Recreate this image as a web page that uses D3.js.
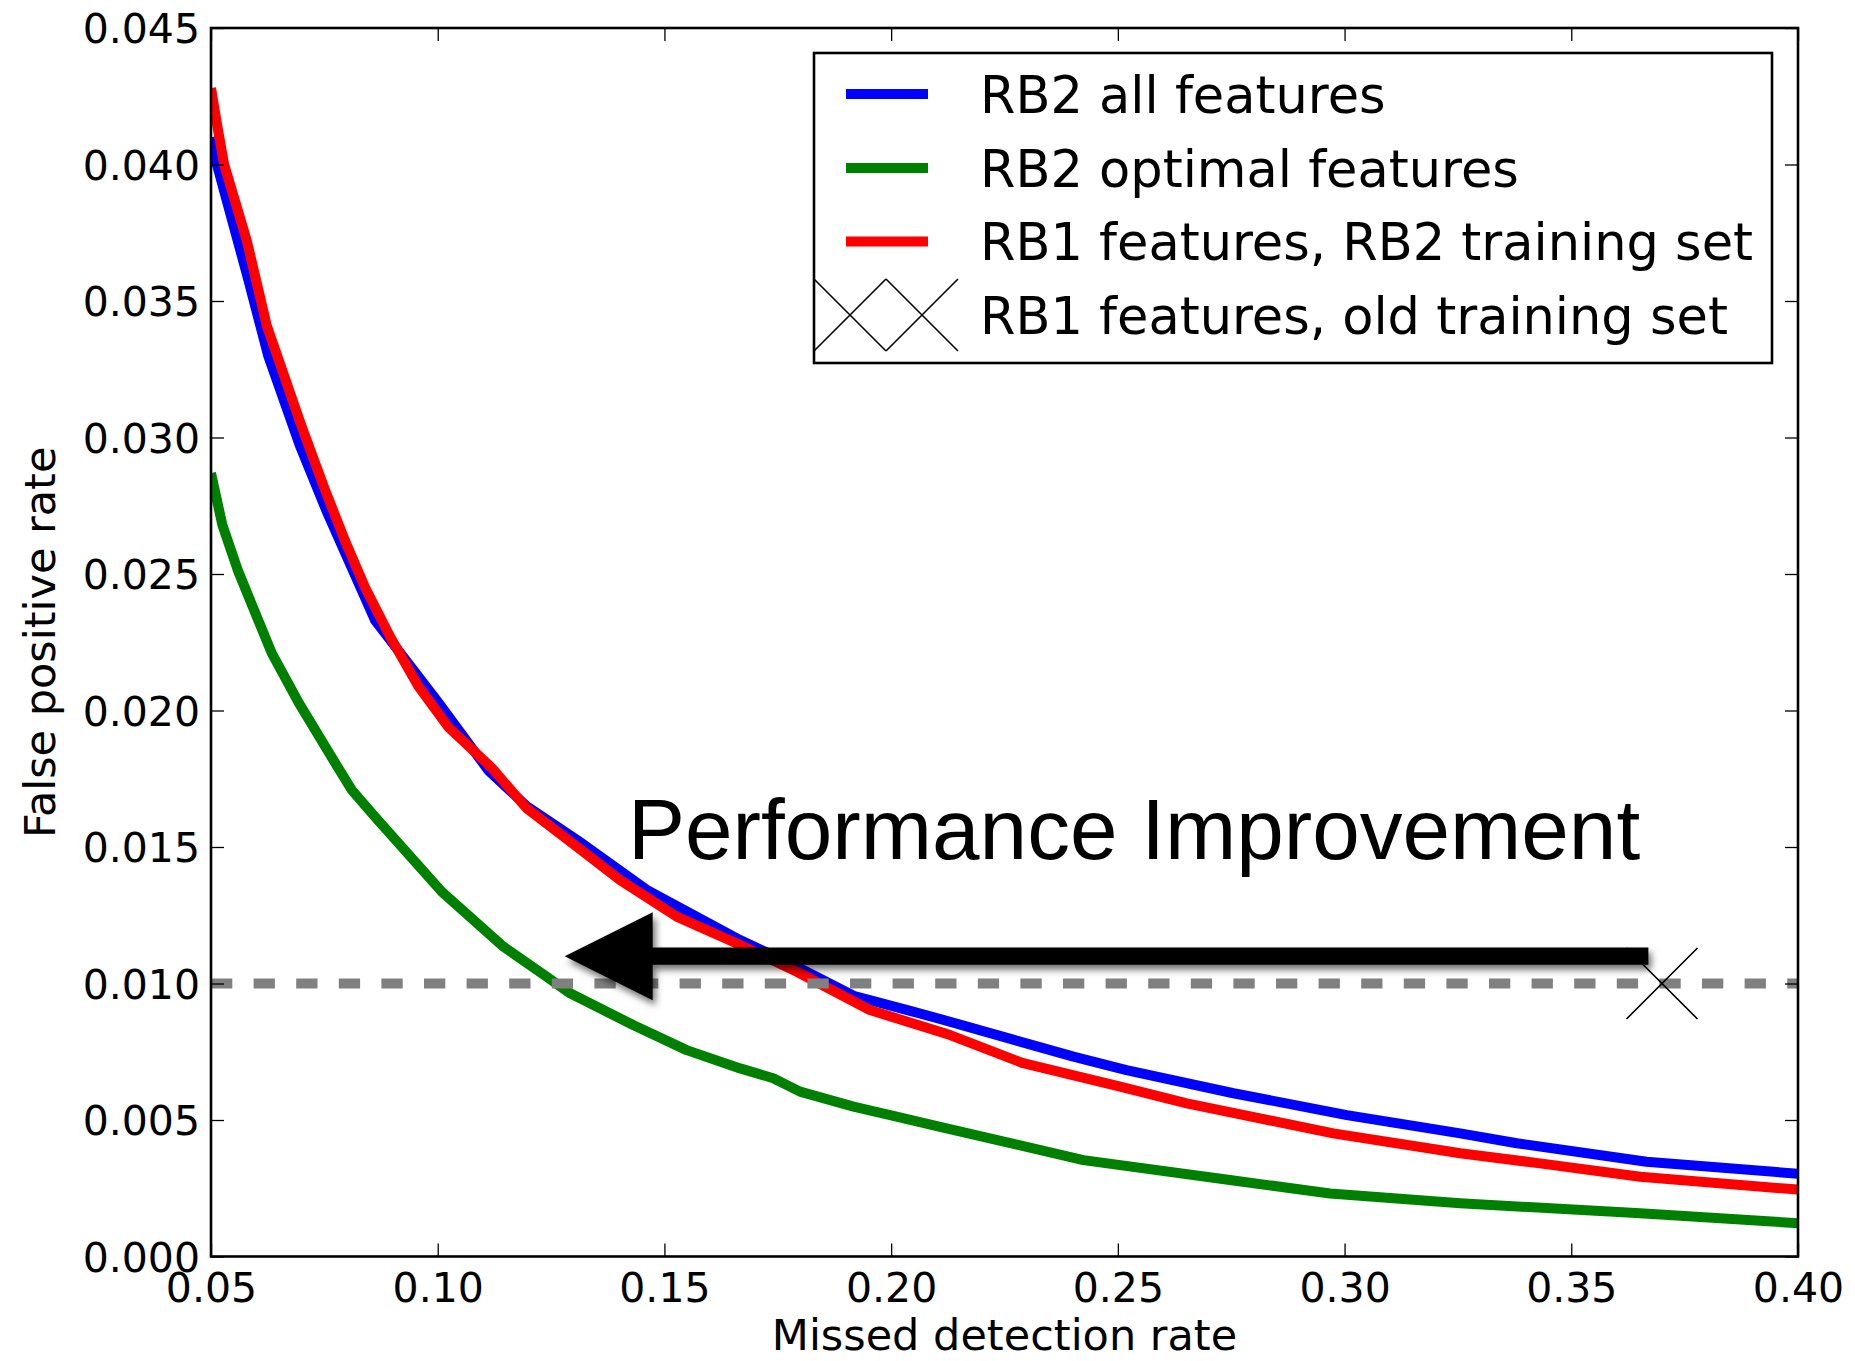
<!DOCTYPE html>
<html>
<head>
<meta charset="utf-8">
<script src="https://cdn.jsdelivr.net/npm/d3@7"></script>
<style>
  body { margin: 0; background: #fff; }
  svg text { fill: #000; }
</style>
</head>
<body>
<svg id="chart" width="1855" height="1361"></svg>
<script>
// ---- data -------------------------------------------------------------
const seriesNames = [
  "RB2 all features",
  "RB2 optimal features",
  "RB1 features, RB2 training set",
  "RB1 features, old training set"
];
const seriesColors = ["#0000ff", "#008000", "#ff0000"];

// RB2 all features (missed detection rate, false positive rate)
const allFeatX = [0.0500, 0.0513, 0.0582, 0.0626, 0.0696, 0.0755, 0.0862, 0.1001, 0.1112, 0.1196,
                  0.1307, 0.1461, 0.1667, 0.1792, 0.1917, 0.2042, 0.2108, 0.2402, 0.2519, 0.2755,
                  0.3005, 0.3255, 0.3380, 0.3666, 0.4000];
const allFeatY = [0.0410, 0.0400, 0.0358, 0.0330, 0.0297, 0.0273, 0.0233, 0.0203, 0.0178, 0.0165,
                  0.01526, 0.01343, 0.01159, 0.01062, 0.00955, 0.00900, 0.00870, 0.00732, 0.00683, 0.00598,
                  0.00518, 0.00451, 0.00415, 0.00347, 0.00303];

// RB2 optimal features
const optFeatX = [0.0500, 0.0525, 0.0560, 0.0634, 0.0693, 0.0773, 0.0810, 0.0862, 0.1009,
                  0.1145, 0.1240, 0.1292, 0.1431, 0.1549, 0.1667, 0.1740, 0.1799, 0.1917, 0.2012,
                  0.2108, 0.2424, 0.2747, 0.2968, 0.3255, 0.3652, 0.4000];
const optFeatY = [0.0287, 0.0268, 0.0251, 0.0221, 0.0203, 0.0181, 0.0171, 0.0161, 0.01336,
                  0.01135, 0.01025, 0.00964, 0.00848, 0.00756, 0.00689, 0.00653, 0.00604, 0.00549, 0.00512,
                  0.00475, 0.00353, 0.00280, 0.00231, 0.00195, 0.00158, 0.00122];

// RB1 features, RB2 training set
const rb1NewX = [0.0500, 0.0513, 0.0529, 0.0579, 0.0623, 0.0700, 0.0751, 0.0796, 0.0840, 0.0895,
                 0.0957, 0.1023, 0.1119, 0.1196, 0.1307, 0.1402, 0.1527, 0.1667, 0.1792, 0.1953,
                 0.2130, 0.2291, 0.2505, 0.2652, 0.2975, 0.3255, 0.3431, 0.3652, 0.4000];
const rb1NewY = [0.0428, 0.0415, 0.0400, 0.0372, 0.0341, 0.0304, 0.0281, 0.0262, 0.0245, 0.0227,
                 0.0209, 0.0194, 0.0179, 0.01642, 0.01501, 0.01379, 0.01245, 0.01141, 0.01043, 0.00903,
                 0.00811, 0.00708, 0.00622, 0.00561, 0.00451, 0.00378, 0.00341, 0.00292, 0.00245];

// RB1 features, old training set: single operating point
const oldPointX = [0.370];
const oldPointY = [0.010];

// fixed false positive rate reference level
const referenceFPR = 0.010;

// improvement arrow: from the old operating point towards the RB2 optimal curve
const arrowFromX = 0.367, arrowToX = 0.128, arrowY = 0.0110;
const annotationText = "Performance Improvement";

const xTicks = [0.05, 0.10, 0.15, 0.20, 0.25, 0.30, 0.35, 0.40];
const yTicks = [0.000, 0.005, 0.010, 0.015, 0.020, 0.025, 0.030, 0.035, 0.040, 0.045];
const xTitle = "Missed detection rate";
const yTitle = "False positive rate";

// ---- layout -----------------------------------------------------------
const plot = { left: 211, right: 1798, top: 28, bottom: 1256.5 };
const tickFont = "DejaVu Sans, Bitstream Vera Sans, sans-serif";

const svg = d3.select("#chart");

const x = d3.scaleLinear().domain([0.05, 0.40]).range([plot.left, plot.right]);
const y = d3.scaleLinear().domain([0, 0.045]).range([plot.bottom, plot.top]);

const defs = svg.append("defs");
defs.append("clipPath").attr("id", "plotClip")
  .append("rect")
  .attr("x", plot.left).attr("y", plot.top)
  .attr("width", plot.right - plot.left).attr("height", plot.bottom - plot.top);

const shadow = defs.append("filter").attr("id", "arrowShadow")
  .attr("x", "-10%").attr("y", "-50%").attr("width", "120%").attr("height", "200%");
shadow.append("feDropShadow")
  .attr("dx", 3).attr("dy", 5).attr("stdDeviation", 3.5)
  .attr("flood-color", "#000").attr("flood-opacity", 0.55);

const plotArea = svg.append("g").attr("clip-path", "url(#plotClip)");

// ---- curves -----------------------------------------------------------
const line = d3.line().x(d => x(d[0])).y(d => y(d[1]));
const curves = [
  d3.zip(allFeatX, allFeatY),
  d3.zip(optFeatX, optFeatY),
  d3.zip(rb1NewX, rb1NewY)
];
curves.forEach((pts, i) => {
  plotArea.append("path")
    .attr("d", line(pts))
    .attr("fill", "none")
    .attr("stroke", seriesColors[i])
    .attr("stroke-width", 10)
    .attr("stroke-linejoin", "round")
    .attr("stroke-linecap", "butt");
});

// reference level
plotArea.append("line")
  .attr("x1", x(0.05)).attr("x2", x(0.40))
  .attr("y1", y(referenceFPR)).attr("y2", y(referenceFPR))
  .attr("stroke", "#808080")
  .attr("stroke-width", 10)
  .attr("stroke-dasharray", "21.3 21.3");

// old training set operating point, drawn as an x marker
const xMarker = (g, cx, cy, r) => {
  g.append("path")
    .attr("d", `M${cx - r},${cy - r}L${cx + r},${cy + r}M${cx - r},${cy + r}L${cx + r},${cy - r}`)
    .attr("stroke", "#000").attr("stroke-width", 1.6).attr("fill", "none");
};
d3.zip(oldPointX, oldPointY).forEach(p => xMarker(plotArea, x(p[0]), y(p[1]), 35.5));

// improvement arrow
const ax0 = x(arrowFromX), ax1 = x(arrowToX), ay = y(arrowY);
const halfBar = 8.6, headHalf = 44, headLen = 88;
const arrowPath = [
  [ax0, ay - halfBar], [ax1 + headLen, ay - halfBar], [ax1 + headLen, ay - headHalf],
  [ax1, ay], [ax1 + headLen, ay + headHalf], [ax1 + headLen, ay + halfBar], [ax0, ay + halfBar]
];
svg.append("path")
  .attr("d", d3.line()(arrowPath) + "Z")
  .attr("fill", "#000")
  .attr("filter", "url(#arrowShadow)");

svg.append("text")
  .attr("x", 628).attr("y", 859)
  .attr("font-family", "Liberation Sans, Arial, Helvetica, sans-serif")
  .attr("font-size", 85.5)
  .text(annotationText);

// ---- axes -------------------------------------------------------------
const tickLen = 13;
const styleAxis = g => {
  g.select(".domain").remove();
  g.selectAll(".tick line").attr("stroke", "#000").attr("stroke-width", 1.3);
  g.selectAll(".tick text").attr("font-family", tickFont).attr("font-size", 41).attr("fill", "#000");
};

svg.append("g")
  .attr("transform", `translate(0,${plot.bottom})`)
  .call(d3.axisBottom(x).tickValues(xTicks).tickFormat(d3.format(".2f"))
        .tickSizeInner(-tickLen).tickSizeOuter(0).tickPadding(16.5))
  .call(styleAxis);

svg.append("g")
  .attr("transform", `translate(0,${plot.top})`)
  .call(d3.axisTop(x).tickValues(xTicks).tickFormat("")
        .tickSizeInner(-tickLen).tickSizeOuter(0))
  .call(styleAxis);

svg.append("g")
  .attr("transform", `translate(${plot.left},0)`)
  .call(d3.axisLeft(y).tickValues(yTicks).tickFormat(d3.format(".3f"))
        .tickSizeInner(-tickLen).tickSizeOuter(0).tickPadding(11))
  .call(styleAxis)
  .call(g => g.selectAll(".tick text").attr("dy", "0.36em"));

svg.append("g")
  .attr("transform", `translate(${plot.right},0)`)
  .call(d3.axisRight(y).tickValues(yTicks).tickFormat("")
        .tickSizeInner(-tickLen).tickSizeOuter(0))
  .call(styleAxis);

// plot frame
svg.append("rect")
  .attr("x", plot.left).attr("y", plot.top)
  .attr("width", plot.right - plot.left).attr("height", plot.bottom - plot.top)
  .attr("fill", "none").attr("stroke", "#000").attr("stroke-width", 2.6);

// axis titles
svg.append("text")
  .attr("x", (plot.left + plot.right) / 2).attr("y", 1350)
  .attr("text-anchor", "middle")
  .attr("font-family", tickFont).attr("font-size", 43)
  .text(xTitle);

svg.append("text")
  .attr("transform", `translate(55,${(plot.top + plot.bottom) / 2}) rotate(-90)`)
  .attr("text-anchor", "middle")
  .attr("font-family", tickFont).attr("font-size", 43)
  .text(yTitle);

// ---- legend -----------------------------------------------------------
const legend = svg.append("g");
legend.append("rect")
  .attr("x", 814).attr("y", 53).attr("width", 958).attr("height", 310)
  .attr("fill", "#fff").attr("stroke", "#000").attr("stroke-width", 2.6);

const rowY = [94, 168, 241.5, 315];
seriesNames.forEach((name, i) => {
  const cy = rowY[i];
  if (i < 3) {
    legend.append("line")
      .attr("x1", 846).attr("x2", 928).attr("y1", cy).attr("y2", cy)
      .attr("stroke", seriesColors[i]).attr("stroke-width", 10);
  } else {
    xMarker(legend, 850, cy, 36);
    xMarker(legend, 922, cy, 36);
  }
  legend.append("text")
    .attr("x", 980).attr("y", cy + 18.5)
    .attr("font-family", tickFont).attr("font-size", 51)
    .text(name);
});
</script>
</body>
</html>
